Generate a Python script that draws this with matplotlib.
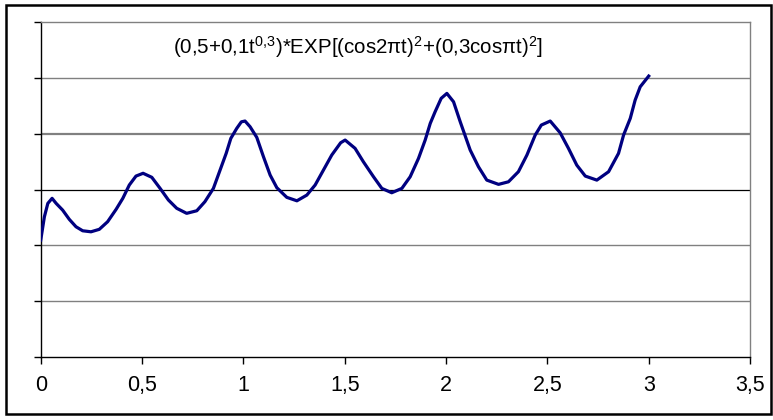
import matplotlib
matplotlib.use("Agg")
import matplotlib.pyplot as plt
import matplotlib.patches as mpatches
from matplotlib.ticker import FuncFormatter

plt.rcParams['font.family'] = ['Liberation Sans', 'DejaVu Sans']
plt.rcParams['mathtext.fontset'] = 'custom'
plt.rcParams['mathtext.rm'] = 'Liberation Sans'
plt.rcParams['mathtext.default'] = 'regular'

# valores
t = [0, 0.018, 0.035, 0.056, 0.076, 0.108, 0.141, 0.174, 0.207, 0.248,
     0.289, 0.33, 0.372, 0.405, 0.437, 0.47, 0.505, 0.548, 0.589, 0.63,
     0.671, 0.72, 0.77, 0.81, 0.852, 0.885, 0.915, 0.938, 0.967, 0.99,
     1.008, 1.033, 1.066, 1.099, 1.132, 1.165, 1.214, 1.264, 1.313, 1.354,
     1.395, 1.436, 1.48, 1.502, 1.551, 1.592, 1.642, 1.683, 1.732, 1.782,
     1.823, 1.864, 1.897, 1.922, 1.946, 1.976, 2.004, 2.037, 2.07, 2.119,
     2.16, 2.201, 2.259, 2.308, 2.357, 2.399, 2.44, 2.47, 2.514, 2.563,
     2.604, 2.645, 2.687, 2.744, 2.802, 2.851, 2.876, 2.909, 2.933, 2.958,
     3.0]
f = [1.048, 1.256, 1.376, 1.421, 1.376, 1.316, 1.233, 1.167, 1.131, 1.122,
     1.144, 1.212, 1.323, 1.421, 1.540, 1.620, 1.645, 1.609, 1.510, 1.406,
     1.332, 1.287, 1.310, 1.391, 1.510, 1.674, 1.823, 1.957, 2.046, 2.105,
     2.112, 2.061, 1.966, 1.793, 1.629, 1.516, 1.430, 1.399, 1.450, 1.540,
     1.674, 1.808, 1.918, 1.942, 1.868, 1.748, 1.614, 1.510, 1.471, 1.510,
     1.614, 1.778, 1.942, 2.091, 2.195, 2.315, 2.359, 2.284, 2.105, 1.853,
     1.703, 1.584, 1.546, 1.569, 1.659, 1.808, 1.987, 2.076, 2.112, 2.007,
     1.868, 1.718, 1.620, 1.584, 1.659, 1.823, 1.987, 2.136, 2.299, 2.418,
     2.514]

xticks = [0, 0.5, 1, 1.5, 2, 2.5, 3, 3.5]
yticks = [0, 0.5, 1, 1.5, 2, 2.5, 3]
titulo = r'(0,5+0,1t$^{0{,}3}$)*EXP[(cos2πt)$^2$+(0,3cosπt)$^2$]'

fig = plt.figure(figsize=(7.73, 4.2), dpi=100)
ax = fig.add_axes([0.0527, 0.1493, 0.9176, 0.799])

# lineas de division horizontales
for y in yticks[1:-1]:
    if y == 1.5:
        ax.axhline(y, color='black', lw=0.9, zorder=1)
    elif y == 2:
        ax.axhline(y, color='#808080', lw=1.6, zorder=1)
    else:
        ax.axhline(y, color='#808080', lw=1.0, zorder=1)

ax.plot(t, f, color='#000080', lw=2.3, zorder=3)

ax.set_xlim(0, 3.5)
ax.set_ylim(0, 3)
ax.set_xticks(xticks)
ax.set_yticks(yticks)
ax.xaxis.set_major_formatter(FuncFormatter(lambda v, p: ('%g' % v).replace('.', ',')))
ax.set_yticklabels([])
ax.tick_params(axis='both', direction='out', length=5, width=1, color='black')
ax.tick_params(axis='x', labelsize=15.5, pad=8)

ax.spines['left'].set_color('black')
ax.spines['bottom'].set_color('black')
ax.spines['top'].set_color('#808080')
ax.spines['right'].set_color('#808080')
for s in ax.spines.values():
    s.set_linewidth(1)

fig.text(173 / 773, 1 - 47 / 420, titulo, fontsize=14.8, ha='left', va='center')

# marco exterior
borde = mpatches.Rectangle((6 / 773, 1 - 414 / 420), 765 / 773, 409 / 420,
                           transform=fig.transFigure, fill=False,
                           edgecolor='black', lw=1.8)
fig.patches.append(borde)

fig.savefig('out.png', dpi=100)
